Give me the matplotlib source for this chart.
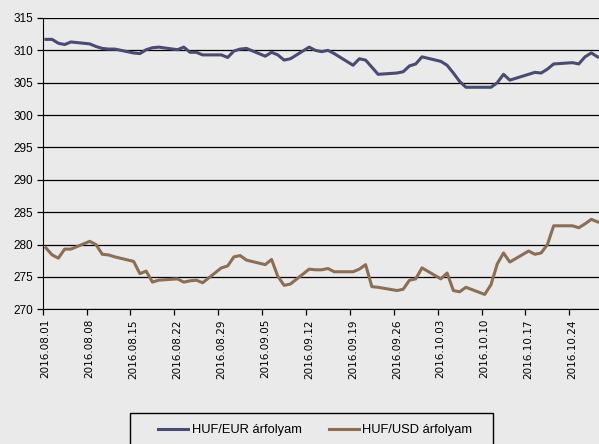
import matplotlib
matplotlib.use("Agg")
import matplotlib.pyplot as plt
import matplotlib.dates as mdates
import matplotlib.transforms as mtransforms
from matplotlib.patches import Rectangle
import pandas as pd

# trading days shown on the chart
aug_days = [1, 2, 3, 4, 5, 8, 9, 10, 11, 12, 15, 16, 17, 18, 19, 22, 23, 24, 25, 26, 29, 30, 31]
sep_days = [1, 2, 5, 6, 7, 8, 9, 12, 13, 14, 15, 16, 19, 20, 21, 22, 23, 26, 27, 28, 29, 30]
oct_days = [3, 4, 5, 6, 7, 10, 11, 12, 13, 14, 17, 18, 19, 20, 21, 24, 25, 26, 27, 28]

huf_eur = [311.7, 311.7, 311.1, 310.9, 311.3, 311.0, 310.6, 310.3, 310.2, 310.2,
           309.6, 309.5, 310.1, 310.4, 310.5, 310.1, 310.5, 309.7, 309.7, 309.3,
           309.3, 308.9, 309.9,
           310.2, 310.3, 309.1, 309.7, 309.3, 308.5, 308.7, 310.5, 310.0, 309.8,
           310.0, 309.5, 307.7, 308.7, 308.5, 307.4, 306.3, 306.5, 306.7, 307.6,
           307.9, 309.0,
           308.3, 307.7, 306.5, 305.2, 304.3, 304.3, 304.3, 305.0, 306.3, 305.4,
           306.3, 306.6, 306.5, 307.1, 307.9, 308.1, 307.9, 309.0, 309.6, 309.0]

huf_usd = [279.5, 278.4, 277.9, 279.3, 279.3, 280.5, 280.0, 278.5, 278.4, 278.1,
           277.4, 275.5, 275.9, 274.2, 274.5, 274.7, 274.2, 274.4, 274.5, 274.1,
           276.4, 276.7, 278.1,
           278.3, 277.6, 276.9, 277.7, 275.1, 273.7, 273.9, 276.2, 276.1, 276.1,
           276.3, 275.8, 275.8, 276.2, 276.9, 273.5, 273.4, 272.9, 273.1, 274.5,
           274.7, 276.4,
           274.7, 275.6, 272.9, 272.7, 273.4, 272.3, 273.8, 277.0, 278.7, 277.3,
           279.0, 278.5, 278.7, 280.0, 282.9, 282.9, 282.6, 283.2, 283.9, 283.5]

series_labels = ["HUF/EUR árfolyam", "HUF/USD árfolyam"]
colors = ["#4a4a72", "#8c6e55"]
bg = "#eaeaea"

dates = ([pd.Timestamp(2016, 8, d) for d in aug_days] +
         [pd.Timestamp(2016, 9, d) for d in sep_days] +
         [pd.Timestamp(2016, 10, d) for d in oct_days])
# Excel date axis puts points in the middle of the day
x = [d + pd.Timedelta(hours=12) for d in dates]

fig = plt.figure(figsize=(5.99, 4.44), dpi=100, facecolor=bg)
ax = fig.add_axes([42.7 / 599, 1 - 309.3 / 444, 558 / 599, (309.3 - 18) / 444])
ax.set_facecolor(bg)

ax.plot(x, huf_eur, color=colors[0], lw=2.2, label=series_labels[0], zorder=3)
ax.plot(x, huf_usd, color=colors[1], lw=2.2, label=series_labels[1], zorder=3)

ax.set_ylim(270, 315)
ax.set_yticks(range(270, 316, 5))
ax.set_xlim(pd.Timestamp(2016, 8, 1), pd.Timestamp(2016, 10, 29))
ax.xaxis.set_major_locator(mdates.WeekdayLocator(byweekday=mdates.MO))
ax.xaxis.set_major_formatter(mdates.DateFormatter("%Y.%m.%d"))

ax.grid(axis="y", color="black", lw=0.9)
ax.set_axisbelow(True)
for s in ["top", "right"]:
    ax.spines[s].set_visible(False)
ax.spines["left"].set_color("black")
ax.spines["bottom"].set_color("black")

ax.tick_params(axis="y", length=4, width=0.9, labelsize=8.5, pad=3)
ax.tick_params(axis="x", length=4, width=0.9, pad=3)
for lab in ax.get_yticklabels():
    lab.set_family("Liberation Sans")
offset = mtransforms.ScaledTranslation(3 / 100, 0, fig.dpi_scale_trans)
for lab in ax.get_xticklabels():
    lab.set_rotation(90)
    lab.set_fontsize(7.5)
    lab.set_family("DejaVu Sans")
    lab.set_transform(lab.get_transform() + offset)

# legend box at the bottom (its lower edge runs off the image)
fig.add_artist(Rectangle((130 / 599, -0.05), (493 - 130) / 599, 0.05 + 1 - 412.7 / 444,
                         transform=fig.transFigure, facecolor=bg, edgecolor="black", lw=1))
fig.legend(loc="center", bbox_to_anchor=(315 / 599, 1 - 430 / 444), ncol=2, frameon=False,
           prop={"family": "Liberation Sans", "size": 9.3},
           handlelength=2.35, handletextpad=0.25, columnspacing=2.1, borderpad=0)

fig.savefig("out.png", dpi=100, facecolor=bg)
